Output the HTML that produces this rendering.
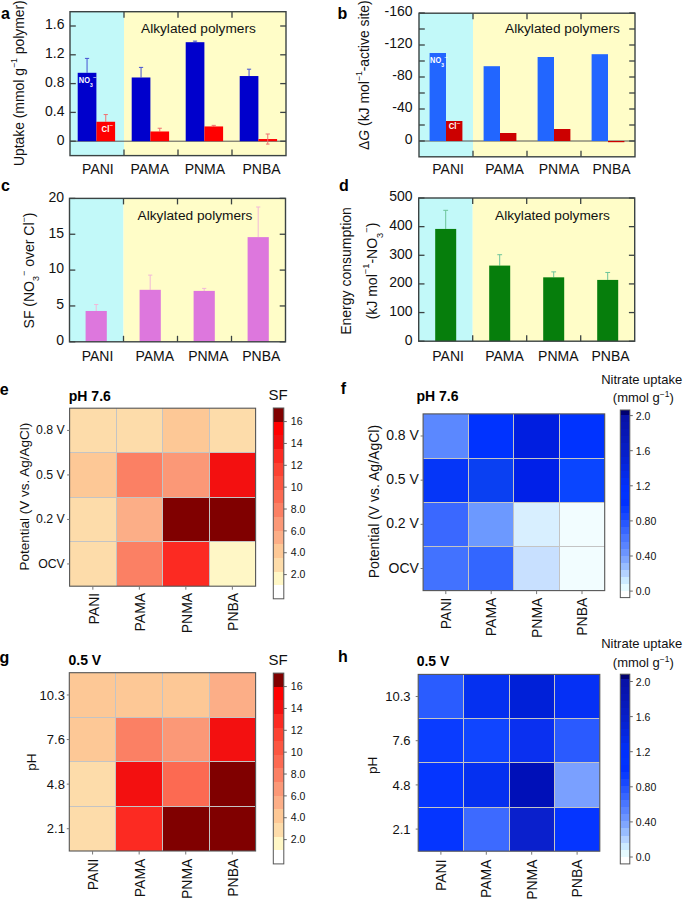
<!DOCTYPE html>
<html><head><meta charset="utf-8"><style>
html,body{margin:0;padding:0;background:#fff;overflow:hidden;}
svg{display:block;font-family:"Liberation Sans", sans-serif;}
</style></head><body>
<svg width="685" height="901" viewBox="0 0 685 901">
<rect width="685" height="901" fill="#fff"/>
<rect x="70.00" y="11.70" width="54.00" height="143.90" fill="#c2f9f9"/>
<rect x="124.00" y="11.70" width="162.00" height="143.90" fill="#fffdc8"/>
<text x="141" y="33" font-size="13.7" text-anchor="start" fill="#111">Alkylated polymers</text>
<line x1="70.00" y1="141.20" x2="286.00" y2="141.20" stroke="#555" stroke-width="1"/>
<line x1="87.05" y1="72.80" x2="87.05" y2="58.40" stroke="#4652d2" stroke-width="1"/>
<line x1="84.95" y1="58.40" x2="89.15" y2="58.40" stroke="#4652d2" stroke-width="1"/>
<line x1="105.75" y1="121.76" x2="105.75" y2="114.56" stroke="#f07070" stroke-width="1"/>
<line x1="103.65" y1="114.56" x2="107.85" y2="114.56" stroke="#f07070" stroke-width="1"/>
<rect x="77.70" y="72.80" width="18.70" height="68.40" fill="#0000cc"/>
<rect x="96.40" y="121.76" width="18.70" height="19.44" fill="#ff0000"/>
<line x1="141.05" y1="77.48" x2="141.05" y2="67.40" stroke="#4652d2" stroke-width="1"/>
<line x1="138.95" y1="67.40" x2="143.15" y2="67.40" stroke="#4652d2" stroke-width="1"/>
<line x1="159.75" y1="131.48" x2="159.75" y2="128.24" stroke="#f07070" stroke-width="1"/>
<line x1="157.65" y1="128.24" x2="161.85" y2="128.24" stroke="#f07070" stroke-width="1"/>
<rect x="131.70" y="77.48" width="18.70" height="63.72" fill="#0000cc"/>
<rect x="150.40" y="131.48" width="18.70" height="9.72" fill="#ff0000"/>
<line x1="195.05" y1="42.20" x2="195.05" y2="41.12" stroke="#4652d2" stroke-width="1"/>
<line x1="192.95" y1="41.12" x2="197.15" y2="41.12" stroke="#4652d2" stroke-width="1"/>
<line x1="213.75" y1="126.44" x2="213.75" y2="125.36" stroke="#f07070" stroke-width="1"/>
<line x1="211.65" y1="125.36" x2="215.85" y2="125.36" stroke="#f07070" stroke-width="1"/>
<rect x="185.70" y="42.20" width="18.70" height="99.00" fill="#0000cc"/>
<rect x="204.40" y="126.44" width="18.70" height="14.76" fill="#ff0000"/>
<line x1="249.05" y1="76.04" x2="249.05" y2="69.20" stroke="#4652d2" stroke-width="1"/>
<line x1="246.95" y1="69.20" x2="251.15" y2="69.20" stroke="#4652d2" stroke-width="1"/>
<line x1="267.75" y1="139.04" x2="267.75" y2="134.00" stroke="#f07070" stroke-width="1"/>
<line x1="265.65" y1="134.00" x2="269.85" y2="134.00" stroke="#f07070" stroke-width="1"/>
<rect x="239.70" y="76.04" width="18.70" height="65.16" fill="#0000cc"/>
<rect x="258.40" y="139.04" width="18.70" height="2.16" fill="#ff0000"/>
<line x1="267.75" y1="139.04" x2="267.75" y2="144.08" stroke="#f07070" stroke-width="1"/>
<line x1="266.00" y1="144.08" x2="269.50" y2="144.08" stroke="#f07070" stroke-width="1"/>
<line x1="70.00" y1="141.20" x2="75.80" y2="141.20" stroke="#3b4343" stroke-width="1.3"/>
<line x1="280.20" y1="141.20" x2="286.00" y2="141.20" stroke="#3b4343" stroke-width="1.3"/>
<line x1="70.00" y1="112.40" x2="75.80" y2="112.40" stroke="#3b4343" stroke-width="1.3"/>
<line x1="280.20" y1="112.40" x2="286.00" y2="112.40" stroke="#3b4343" stroke-width="1.3"/>
<line x1="70.00" y1="83.60" x2="75.80" y2="83.60" stroke="#3b4343" stroke-width="1.3"/>
<line x1="280.20" y1="83.60" x2="286.00" y2="83.60" stroke="#3b4343" stroke-width="1.3"/>
<line x1="70.00" y1="54.80" x2="75.80" y2="54.80" stroke="#3b4343" stroke-width="1.3"/>
<line x1="280.20" y1="54.80" x2="286.00" y2="54.80" stroke="#3b4343" stroke-width="1.3"/>
<line x1="70.00" y1="26.00" x2="75.80" y2="26.00" stroke="#3b4343" stroke-width="1.3"/>
<line x1="280.20" y1="26.00" x2="286.00" y2="26.00" stroke="#3b4343" stroke-width="1.3"/>
<line x1="124.00" y1="11.70" x2="124.00" y2="17.70" stroke="#3b4343" stroke-width="1.3"/>
<line x1="124.00" y1="149.60" x2="124.00" y2="155.60" stroke="#3b4343" stroke-width="1.3"/>
<line x1="178.00" y1="11.70" x2="178.00" y2="17.70" stroke="#3b4343" stroke-width="1.3"/>
<line x1="178.00" y1="149.60" x2="178.00" y2="155.60" stroke="#3b4343" stroke-width="1.3"/>
<line x1="232.00" y1="11.70" x2="232.00" y2="17.70" stroke="#3b4343" stroke-width="1.3"/>
<line x1="232.00" y1="149.60" x2="232.00" y2="155.60" stroke="#3b4343" stroke-width="1.3"/>
<rect x="70" y="11.7" width="216" height="143.9" fill="none" stroke="#3b4343" stroke-width="1.4"/>
<text x="64.5" y="144.5" font-size="14" text-anchor="end" fill="#111">0</text>
<text x="64.5" y="115.69999999999999" font-size="14" text-anchor="end" fill="#111">0.4</text>
<text x="64.5" y="86.89999999999999" font-size="14" text-anchor="end" fill="#111">0.8</text>
<text x="64.5" y="58.099999999999994" font-size="14" text-anchor="end" fill="#111">1.2</text>
<text x="64.5" y="29.299999999999986" font-size="14" text-anchor="end" fill="#111">1.6</text>
<text x="97.9" y="173.8" font-size="14" text-anchor="middle" fill="#111">PANI</text>
<text x="149.7" y="173.8" font-size="14" text-anchor="middle" fill="#111">PAMA</text>
<text x="204.9" y="173.8" font-size="14" text-anchor="middle" fill="#111">PNMA</text>
<text x="261.5" y="173.8" font-size="14" text-anchor="middle" fill="#111">PNBA</text>
<text transform="translate(78.8,82.8) scale(0.86,1)" font-size="8.6" fill="#fff" font-weight="bold">NO<tspan font-size="5.8" dy="3.8">3</tspan><tspan font-size="7" dy="-7.1" font-weight="normal">&#8722;</tspan></text>
<text transform="translate(101.6,131.8) scale(0.9,1)" font-size="8.6" fill="#fff" font-weight="bold">Cl<tspan font-size="7" dy="-3.6" font-weight="normal">&#8722;</tspan></text>
<text transform="translate(24,83.2) rotate(-90)" font-size="13.9" text-anchor="middle" fill="#111">Uptake (mmol g<tspan font-size="8.7" dy="-7">&#8722;1</tspan><tspan dy="7"> polymer)</tspan></text>
<text x="1" y="18.8" font-size="16" text-anchor="start" fill="#000" font-weight="bold">a</text>
<rect x="419.00" y="13.20" width="54.00" height="143.60" fill="#c2f9f9"/>
<rect x="473.00" y="13.20" width="162.00" height="143.60" fill="#fffdc8"/>
<text x="505" y="33" font-size="13.7" text-anchor="start" fill="#111">Alkylated polymers</text>
<line x1="419.00" y1="141.00" x2="635.00" y2="141.00" stroke="#555" stroke-width="1"/>
<rect x="429.60" y="53.00" width="16.40" height="88.00" fill="#2266ff"/>
<rect x="446.00" y="121.00" width="16.40" height="20.00" fill="#cc0000"/>
<rect x="483.60" y="66.20" width="16.40" height="74.80" fill="#2266ff"/>
<rect x="500.00" y="133.00" width="16.40" height="8.00" fill="#cc0000"/>
<rect x="537.60" y="57.00" width="16.40" height="84.00" fill="#2266ff"/>
<rect x="554.00" y="129.00" width="16.40" height="12.00" fill="#cc0000"/>
<rect x="591.60" y="54.20" width="16.40" height="86.80" fill="#2266ff"/>
<rect x="608.00" y="141.00" width="16.40" height="1.20" fill="#cc0000"/>
<line x1="419.00" y1="141.00" x2="424.80" y2="141.00" stroke="#3b4343" stroke-width="1.3"/>
<line x1="629.20" y1="141.00" x2="635.00" y2="141.00" stroke="#3b4343" stroke-width="1.3"/>
<line x1="419.00" y1="125.00" x2="424.80" y2="125.00" stroke="#3b4343" stroke-width="1.3"/>
<line x1="629.20" y1="125.00" x2="635.00" y2="125.00" stroke="#3b4343" stroke-width="1.3"/>
<line x1="419.00" y1="109.00" x2="424.80" y2="109.00" stroke="#3b4343" stroke-width="1.3"/>
<line x1="629.20" y1="109.00" x2="635.00" y2="109.00" stroke="#3b4343" stroke-width="1.3"/>
<line x1="419.00" y1="93.00" x2="424.80" y2="93.00" stroke="#3b4343" stroke-width="1.3"/>
<line x1="629.20" y1="93.00" x2="635.00" y2="93.00" stroke="#3b4343" stroke-width="1.3"/>
<line x1="419.00" y1="77.00" x2="424.80" y2="77.00" stroke="#3b4343" stroke-width="1.3"/>
<line x1="629.20" y1="77.00" x2="635.00" y2="77.00" stroke="#3b4343" stroke-width="1.3"/>
<line x1="419.00" y1="61.00" x2="424.80" y2="61.00" stroke="#3b4343" stroke-width="1.3"/>
<line x1="629.20" y1="61.00" x2="635.00" y2="61.00" stroke="#3b4343" stroke-width="1.3"/>
<line x1="419.00" y1="45.00" x2="424.80" y2="45.00" stroke="#3b4343" stroke-width="1.3"/>
<line x1="629.20" y1="45.00" x2="635.00" y2="45.00" stroke="#3b4343" stroke-width="1.3"/>
<line x1="419.00" y1="29.00" x2="424.80" y2="29.00" stroke="#3b4343" stroke-width="1.3"/>
<line x1="629.20" y1="29.00" x2="635.00" y2="29.00" stroke="#3b4343" stroke-width="1.3"/>
<line x1="419.00" y1="13.00" x2="424.80" y2="13.00" stroke="#3b4343" stroke-width="1.3"/>
<line x1="629.20" y1="13.00" x2="635.00" y2="13.00" stroke="#3b4343" stroke-width="1.3"/>
<line x1="473.00" y1="13.20" x2="473.00" y2="19.20" stroke="#3b4343" stroke-width="1.3"/>
<line x1="473.00" y1="150.80" x2="473.00" y2="156.80" stroke="#3b4343" stroke-width="1.3"/>
<line x1="527.00" y1="13.20" x2="527.00" y2="19.20" stroke="#3b4343" stroke-width="1.3"/>
<line x1="527.00" y1="150.80" x2="527.00" y2="156.80" stroke="#3b4343" stroke-width="1.3"/>
<line x1="581.00" y1="13.20" x2="581.00" y2="19.20" stroke="#3b4343" stroke-width="1.3"/>
<line x1="581.00" y1="150.80" x2="581.00" y2="156.80" stroke="#3b4343" stroke-width="1.3"/>
<rect x="419" y="13.2" width="216" height="143.60000000000002" fill="none" stroke="#3b4343" stroke-width="1.4"/>
<text x="412.6" y="144.3" font-size="14" text-anchor="end" fill="#111">0</text>
<text x="412.6" y="112.3" font-size="14" text-anchor="end" fill="#111">-40</text>
<text x="412.6" y="80.3" font-size="14" text-anchor="end" fill="#111">-80</text>
<text x="412.6" y="48.3" font-size="14" text-anchor="end" fill="#111">-120</text>
<text x="412.6" y="16.3" font-size="14" text-anchor="end" fill="#111">-160</text>
<text x="448.1" y="174.4" font-size="14" text-anchor="middle" fill="#111">PANI</text>
<text x="504.5" y="174.4" font-size="14" text-anchor="middle" fill="#111">PAMA</text>
<text x="559" y="174.4" font-size="14" text-anchor="middle" fill="#111">PNMA</text>
<text x="611.5" y="174.4" font-size="14" text-anchor="middle" fill="#111">PNBA</text>
<text transform="translate(430.1,63) scale(0.86,1)" font-size="8.6" fill="#fff" font-weight="bold">NO<tspan font-size="5.8" dy="3.8">3</tspan><tspan font-size="7" dy="-7.1" font-weight="normal">&#8722;</tspan></text>
<text transform="translate(448.7,129.1) scale(0.9,1)" font-size="8.6" fill="#fff" font-weight="bold">Cl<tspan font-size="7" dy="-3.5" font-weight="normal">&#8722;</tspan></text>
<text transform="translate(369.1,75.1) rotate(-90)" font-size="13.9" text-anchor="middle" fill="#111">&#916;<tspan font-style="italic">G</tspan> (kJ mol<tspan font-size="8.7" dy="-7">&#8722;1</tspan><tspan dy="7">-active site)</tspan></text>
<text x="337.6" y="19" font-size="16" text-anchor="start" fill="#000" font-weight="bold">b</text>
<rect x="69.50" y="198.40" width="54.00" height="143.40" fill="#c2f9f9"/>
<rect x="123.50" y="198.40" width="162.00" height="143.40" fill="#fffdc8"/>
<text x="137.6" y="220" font-size="13.7" text-anchor="start" fill="#111">Alkylated polymers</text>
<line x1="96.20" y1="310.97" x2="96.20" y2="304.52" stroke="#f2b8d8" stroke-width="1"/>
<line x1="94.10" y1="304.52" x2="98.30" y2="304.52" stroke="#f2b8d8" stroke-width="1"/>
<rect x="85.60" y="310.97" width="21.20" height="30.83" fill="#dd77dd"/>
<line x1="150.20" y1="289.82" x2="150.20" y2="275.12" stroke="#f2b8d8" stroke-width="1"/>
<line x1="148.10" y1="275.12" x2="152.30" y2="275.12" stroke="#f2b8d8" stroke-width="1"/>
<rect x="139.60" y="289.82" width="21.20" height="51.98" fill="#dd77dd"/>
<line x1="204.20" y1="290.89" x2="204.20" y2="288.38" stroke="#f2b8d8" stroke-width="1"/>
<line x1="202.10" y1="288.38" x2="206.30" y2="288.38" stroke="#f2b8d8" stroke-width="1"/>
<rect x="193.60" y="290.89" width="21.20" height="50.91" fill="#dd77dd"/>
<line x1="258.20" y1="237.12" x2="258.20" y2="207.00" stroke="#f2b8d8" stroke-width="1"/>
<line x1="256.10" y1="207.00" x2="260.30" y2="207.00" stroke="#f2b8d8" stroke-width="1"/>
<rect x="247.60" y="237.12" width="21.20" height="104.68" fill="#dd77dd"/>
<line x1="69.50" y1="341.80" x2="75.30" y2="341.80" stroke="#3b4343" stroke-width="1.3"/>
<line x1="279.70" y1="341.80" x2="285.50" y2="341.80" stroke="#3b4343" stroke-width="1.3"/>
<line x1="69.50" y1="305.95" x2="75.30" y2="305.95" stroke="#3b4343" stroke-width="1.3"/>
<line x1="279.70" y1="305.95" x2="285.50" y2="305.95" stroke="#3b4343" stroke-width="1.3"/>
<line x1="69.50" y1="270.10" x2="75.30" y2="270.10" stroke="#3b4343" stroke-width="1.3"/>
<line x1="279.70" y1="270.10" x2="285.50" y2="270.10" stroke="#3b4343" stroke-width="1.3"/>
<line x1="69.50" y1="234.25" x2="75.30" y2="234.25" stroke="#3b4343" stroke-width="1.3"/>
<line x1="279.70" y1="234.25" x2="285.50" y2="234.25" stroke="#3b4343" stroke-width="1.3"/>
<line x1="69.50" y1="198.40" x2="75.30" y2="198.40" stroke="#3b4343" stroke-width="1.3"/>
<line x1="279.70" y1="198.40" x2="285.50" y2="198.40" stroke="#3b4343" stroke-width="1.3"/>
<line x1="123.50" y1="198.40" x2="123.50" y2="204.40" stroke="#3b4343" stroke-width="1.3"/>
<line x1="123.50" y1="335.80" x2="123.50" y2="341.80" stroke="#3b4343" stroke-width="1.3"/>
<line x1="177.50" y1="198.40" x2="177.50" y2="204.40" stroke="#3b4343" stroke-width="1.3"/>
<line x1="177.50" y1="335.80" x2="177.50" y2="341.80" stroke="#3b4343" stroke-width="1.3"/>
<line x1="231.50" y1="198.40" x2="231.50" y2="204.40" stroke="#3b4343" stroke-width="1.3"/>
<line x1="231.50" y1="335.80" x2="231.50" y2="341.80" stroke="#3b4343" stroke-width="1.3"/>
<rect x="69.5" y="198.4" width="216.0" height="143.4" fill="none" stroke="#3b4343" stroke-width="1.4"/>
<text x="64" y="345.1" font-size="14" text-anchor="end" fill="#111">0</text>
<text x="64" y="309.25" font-size="14" text-anchor="end" fill="#111">5</text>
<text x="64" y="273.40000000000003" font-size="14" text-anchor="end" fill="#111">10</text>
<text x="64" y="237.55" font-size="14" text-anchor="end" fill="#111">15</text>
<text x="64" y="201.70000000000002" font-size="14" text-anchor="end" fill="#111">20</text>
<text x="97.5" y="360.9" font-size="14" text-anchor="middle" fill="#111">PANI</text>
<text x="154.8" y="360.9" font-size="14" text-anchor="middle" fill="#111">PAMA</text>
<text x="208.4" y="360.9" font-size="14" text-anchor="middle" fill="#111">PNMA</text>
<text x="261.3" y="360.9" font-size="14" text-anchor="middle" fill="#111">PNBA</text>
<text transform="translate(33.6,270.5) rotate(-90)" font-size="14" text-anchor="middle" fill="#111">SF (NO<tspan font-size="9" dy="5.5">3</tspan><tspan font-size="9" dy="-12.5">&#8722;</tspan><tspan dy="7"> over Cl</tspan><tspan font-size="9" dy="-7">&#8722;</tspan><tspan dy="7">)</tspan></text>
<text x="1" y="190.5" font-size="16" text-anchor="start" fill="#000" font-weight="bold">c</text>
<rect x="418.70" y="198.00" width="54.00" height="143.20" fill="#c2f9f9"/>
<rect x="472.70" y="198.00" width="162.00" height="143.20" fill="#fffdc8"/>
<text x="495" y="219.5" font-size="13.7" text-anchor="start" fill="#111">Alkylated polymers</text>
<line x1="445.70" y1="228.93" x2="445.70" y2="210.32" stroke="#6cc49a" stroke-width="1"/>
<line x1="443.30" y1="210.32" x2="448.10" y2="210.32" stroke="#6cc49a" stroke-width="1"/>
<rect x="435.20" y="228.93" width="21.00" height="112.27" fill="#067e0c"/>
<line x1="499.70" y1="265.59" x2="499.70" y2="254.71" stroke="#6cc49a" stroke-width="1"/>
<line x1="497.30" y1="254.71" x2="502.10" y2="254.71" stroke="#6cc49a" stroke-width="1"/>
<rect x="489.20" y="265.59" width="21.00" height="75.61" fill="#067e0c"/>
<line x1="553.70" y1="277.33" x2="553.70" y2="271.89" stroke="#6cc49a" stroke-width="1"/>
<line x1="551.30" y1="271.89" x2="556.10" y2="271.89" stroke="#6cc49a" stroke-width="1"/>
<rect x="543.20" y="277.33" width="21.00" height="63.87" fill="#067e0c"/>
<line x1="607.70" y1="279.91" x2="607.70" y2="272.46" stroke="#6cc49a" stroke-width="1"/>
<line x1="605.30" y1="272.46" x2="610.10" y2="272.46" stroke="#6cc49a" stroke-width="1"/>
<rect x="597.20" y="279.91" width="21.00" height="61.29" fill="#067e0c"/>
<line x1="418.70" y1="341.20" x2="424.50" y2="341.20" stroke="#3b4343" stroke-width="1.3"/>
<line x1="628.90" y1="341.20" x2="634.70" y2="341.20" stroke="#3b4343" stroke-width="1.3"/>
<line x1="418.70" y1="312.56" x2="424.50" y2="312.56" stroke="#3b4343" stroke-width="1.3"/>
<line x1="628.90" y1="312.56" x2="634.70" y2="312.56" stroke="#3b4343" stroke-width="1.3"/>
<line x1="418.70" y1="283.92" x2="424.50" y2="283.92" stroke="#3b4343" stroke-width="1.3"/>
<line x1="628.90" y1="283.92" x2="634.70" y2="283.92" stroke="#3b4343" stroke-width="1.3"/>
<line x1="418.70" y1="255.28" x2="424.50" y2="255.28" stroke="#3b4343" stroke-width="1.3"/>
<line x1="628.90" y1="255.28" x2="634.70" y2="255.28" stroke="#3b4343" stroke-width="1.3"/>
<line x1="418.70" y1="226.64" x2="424.50" y2="226.64" stroke="#3b4343" stroke-width="1.3"/>
<line x1="628.90" y1="226.64" x2="634.70" y2="226.64" stroke="#3b4343" stroke-width="1.3"/>
<line x1="418.70" y1="198.00" x2="424.50" y2="198.00" stroke="#3b4343" stroke-width="1.3"/>
<line x1="628.90" y1="198.00" x2="634.70" y2="198.00" stroke="#3b4343" stroke-width="1.3"/>
<line x1="472.70" y1="198.00" x2="472.70" y2="204.00" stroke="#3b4343" stroke-width="1.3"/>
<line x1="472.70" y1="335.20" x2="472.70" y2="341.20" stroke="#3b4343" stroke-width="1.3"/>
<line x1="526.70" y1="198.00" x2="526.70" y2="204.00" stroke="#3b4343" stroke-width="1.3"/>
<line x1="526.70" y1="335.20" x2="526.70" y2="341.20" stroke="#3b4343" stroke-width="1.3"/>
<line x1="580.70" y1="198.00" x2="580.70" y2="204.00" stroke="#3b4343" stroke-width="1.3"/>
<line x1="580.70" y1="335.20" x2="580.70" y2="341.20" stroke="#3b4343" stroke-width="1.3"/>
<rect x="418.7" y="198" width="216.00000000000006" height="143.2" fill="none" stroke="#3b4343" stroke-width="1.4"/>
<text x="412.6" y="344.5" font-size="14" text-anchor="end" fill="#111">0</text>
<text x="412.6" y="315.86" font-size="14" text-anchor="end" fill="#111">100</text>
<text x="412.6" y="287.21999999999997" font-size="14" text-anchor="end" fill="#111">200</text>
<text x="412.6" y="258.58" font-size="14" text-anchor="end" fill="#111">300</text>
<text x="412.6" y="229.94" font-size="14" text-anchor="end" fill="#111">400</text>
<text x="412.6" y="201.3" font-size="14" text-anchor="end" fill="#111">500</text>
<text x="448.1" y="360.6" font-size="14" text-anchor="middle" fill="#111">PANI</text>
<text x="504.5" y="360.6" font-size="14" text-anchor="middle" fill="#111">PAMA</text>
<text x="558.3" y="360.6" font-size="14" text-anchor="middle" fill="#111">PNMA</text>
<text x="610.5" y="360.6" font-size="14" text-anchor="middle" fill="#111">PNBA</text>
<text transform="translate(350.7,271) rotate(-90)" font-size="14" text-anchor="middle" fill="#111">Energy consumption</text>
<text transform="translate(376.5,271) rotate(-90)" font-size="14" text-anchor="middle" fill="#111">(kJ mol<tspan font-size="9.3" dy="-7.2">&#8722;1</tspan><tspan dy="7.2">-NO</tspan><tspan font-size="9.3" dy="6.5">3</tspan><tspan font-size="9.3" dy="-13.5">&#8722;</tspan><tspan dy="7">)</tspan></text>
<text x="339" y="191" font-size="16" text-anchor="start" fill="#000" font-weight="bold">d</text>
<rect x="69.60" y="408.20" width="46.90" height="44.30" fill="#fddcaa"/>
<rect x="116.50" y="408.20" width="46.00" height="44.30" fill="#fddcaa"/>
<rect x="162.50" y="408.20" width="47.00" height="44.30" fill="#fdc896"/>
<rect x="209.50" y="408.20" width="46.10" height="44.30" fill="#fddcaa"/>
<rect x="69.60" y="452.50" width="46.90" height="45.00" fill="#fdc896"/>
<rect x="116.50" y="452.50" width="46.00" height="45.00" fill="#fb8064"/>
<rect x="162.50" y="452.50" width="47.00" height="45.00" fill="#fb9877"/>
<rect x="209.50" y="452.50" width="46.10" height="45.00" fill="#f31010"/>
<rect x="69.60" y="497.50" width="46.90" height="44.00" fill="#fddcaa"/>
<rect x="116.50" y="497.50" width="46.00" height="44.00" fill="#fcae87"/>
<rect x="162.50" y="497.50" width="47.00" height="44.00" fill="#800000"/>
<rect x="209.50" y="497.50" width="46.10" height="44.00" fill="#800000"/>
<rect x="69.60" y="541.50" width="46.90" height="44.70" fill="#fddcaa"/>
<rect x="116.50" y="541.50" width="46.00" height="44.70" fill="#fb8064"/>
<rect x="162.50" y="541.50" width="47.00" height="44.70" fill="#fc2a22"/>
<rect x="209.50" y="541.50" width="46.10" height="44.70" fill="#fff7c6"/>
<line x1="116.50" y1="408.20" x2="116.50" y2="586.20" stroke="#c4c4c4" stroke-width="1"/>
<line x1="69.60" y1="452.50" x2="255.60" y2="452.50" stroke="#c4c4c4" stroke-width="1"/>
<line x1="162.50" y1="408.20" x2="162.50" y2="586.20" stroke="#c4c4c4" stroke-width="1"/>
<line x1="69.60" y1="497.50" x2="255.60" y2="497.50" stroke="#c4c4c4" stroke-width="1"/>
<line x1="209.50" y1="408.20" x2="209.50" y2="586.20" stroke="#c4c4c4" stroke-width="1"/>
<line x1="69.60" y1="541.50" x2="255.60" y2="541.50" stroke="#c4c4c4" stroke-width="1"/>
<rect x="69.6" y="408.2" width="186.00" height="178.00" fill="none" stroke="#555" stroke-width="1.1"/>
<line x1="67.10" y1="430.45" x2="69.60" y2="430.45" stroke="#777" stroke-width="1"/>
<text x="64.8" y="434.378" font-size="12.3" text-anchor="end" fill="#111">0.8 V</text>
<line x1="67.10" y1="474.95" x2="69.60" y2="474.95" stroke="#777" stroke-width="1"/>
<text x="64.8" y="478.87800000000004" font-size="12.3" text-anchor="end" fill="#111">0.5 V</text>
<line x1="67.10" y1="519.45" x2="69.60" y2="519.45" stroke="#777" stroke-width="1"/>
<text x="64.8" y="523.378" font-size="12.3" text-anchor="end" fill="#111">0.2 V</text>
<line x1="67.10" y1="563.95" x2="69.60" y2="563.95" stroke="#777" stroke-width="1"/>
<text x="64.8" y="567.878" font-size="12.3" text-anchor="end" fill="#111">OCV</text>
<line x1="92.85" y1="586.20" x2="92.85" y2="589.70" stroke="#777" stroke-width="1"/>
<text transform="translate(98.89,592.8) rotate(-90)" font-size="14" text-anchor="end" fill="#111">PANI</text>
<line x1="139.35" y1="586.20" x2="139.35" y2="589.70" stroke="#777" stroke-width="1"/>
<text transform="translate(145.39,592.8) rotate(-90)" font-size="14" text-anchor="end" fill="#111">PAMA</text>
<line x1="185.85" y1="586.20" x2="185.85" y2="589.70" stroke="#777" stroke-width="1"/>
<text transform="translate(191.89,592.8) rotate(-90)" font-size="14" text-anchor="end" fill="#111">PNMA</text>
<line x1="232.35" y1="586.20" x2="232.35" y2="589.70" stroke="#777" stroke-width="1"/>
<text transform="translate(238.39,592.8) rotate(-90)" font-size="14" text-anchor="end" fill="#111">PNBA</text>
<text x="68.8" y="400.9" font-size="14" text-anchor="start" fill="#000" font-weight="bold">pH 7.6</text>
<text transform="translate(28.6,496.6) rotate(-90)" font-size="13.5" text-anchor="middle" fill="#111">Potential (V vs. Ag/AgCl)</text>
<text x="268.5" y="399.9" font-size="15" text-anchor="start" fill="#111">SF</text>
<defs><linearGradient id="g1" x1="0" y1="0" x2="0" y2="1"><stop offset="0.0000" stop-color="#800000"/><stop offset="0.0714" stop-color="#800000"/><stop offset="0.0714" stop-color="#ff0000"/><stop offset="0.1429" stop-color="#ff0000"/><stop offset="0.1429" stop-color="#f31010"/><stop offset="0.2143" stop-color="#f31010"/><stop offset="0.2143" stop-color="#fc2a22"/><stop offset="0.2857" stop-color="#fc2a22"/><stop offset="0.2857" stop-color="#fc4232"/><stop offset="0.3571" stop-color="#fc4232"/><stop offset="0.3571" stop-color="#fc5641"/><stop offset="0.4286" stop-color="#fc5641"/><stop offset="0.4286" stop-color="#fc6a52"/><stop offset="0.5000" stop-color="#fc6a52"/><stop offset="0.5000" stop-color="#fb8064"/><stop offset="0.5714" stop-color="#fb8064"/><stop offset="0.5714" stop-color="#fb9877"/><stop offset="0.6429" stop-color="#fb9877"/><stop offset="0.6429" stop-color="#fcae87"/><stop offset="0.7143" stop-color="#fcae87"/><stop offset="0.7143" stop-color="#fdc896"/><stop offset="0.7857" stop-color="#fdc896"/><stop offset="0.7857" stop-color="#fddcaa"/><stop offset="0.8571" stop-color="#fddcaa"/><stop offset="0.8571" stop-color="#fff7c6"/><stop offset="0.9286" stop-color="#fff7c6"/><stop offset="0.9286" stop-color="#ffffff"/><stop offset="1.0000" stop-color="#ffffff"/></linearGradient></defs>
<rect x="273.30" y="408.00" width="10.50" height="190.80" fill="url(#g1)"/>
<rect x="273.3" y="408" width="10.50" height="190.80" fill="none" stroke="#555" stroke-width="1"/>
<line x1="283.80" y1="574.60" x2="286.80" y2="574.60" stroke="#666" stroke-width="1"/>
<text x="290.8" y="578.3000000000001" font-size="10.5" text-anchor="start" fill="#111">2.0</text>
<line x1="283.80" y1="552.74" x2="286.80" y2="552.74" stroke="#666" stroke-width="1"/>
<text x="290.8" y="556.44" font-size="10.5" text-anchor="start" fill="#111">4.0</text>
<line x1="283.80" y1="530.88" x2="286.80" y2="530.88" stroke="#666" stroke-width="1"/>
<text x="290.8" y="534.58" font-size="10.5" text-anchor="start" fill="#111">6.0</text>
<line x1="283.80" y1="509.02" x2="286.80" y2="509.02" stroke="#666" stroke-width="1"/>
<text x="290.8" y="512.72" font-size="10.5" text-anchor="start" fill="#111">8.0</text>
<line x1="283.80" y1="487.16" x2="286.80" y2="487.16" stroke="#666" stroke-width="1"/>
<text x="290.8" y="490.86" font-size="10.5" text-anchor="start" fill="#111">10</text>
<line x1="283.80" y1="465.30" x2="286.80" y2="465.30" stroke="#666" stroke-width="1"/>
<text x="290.8" y="469.0" font-size="10.5" text-anchor="start" fill="#111">12</text>
<line x1="283.80" y1="443.44" x2="286.80" y2="443.44" stroke="#666" stroke-width="1"/>
<text x="290.8" y="447.14000000000004" font-size="10.5" text-anchor="start" fill="#111">14</text>
<line x1="283.80" y1="421.58" x2="286.80" y2="421.58" stroke="#666" stroke-width="1"/>
<text x="290.8" y="425.28000000000003" font-size="10.5" text-anchor="start" fill="#111">16</text>
<text x="-0.3" y="394.9" font-size="16" text-anchor="start" fill="#000" font-weight="bold">e</text>
<rect x="423.10" y="413.90" width="45.40" height="44.60" fill="#5b88ff"/>
<rect x="468.50" y="413.90" width="45.00" height="44.60" fill="#0033ff"/>
<rect x="513.50" y="413.90" width="46.00" height="44.60" fill="#001ee0"/>
<rect x="559.50" y="413.90" width="45.20" height="44.60" fill="#0033ff"/>
<rect x="423.10" y="458.50" width="45.40" height="44.00" fill="#0536f8"/>
<rect x="468.50" y="458.50" width="45.00" height="44.00" fill="#0a40f2"/>
<rect x="513.50" y="458.50" width="46.00" height="44.00" fill="#0020e8"/>
<rect x="559.50" y="458.50" width="45.20" height="44.00" fill="#0a45ff"/>
<rect x="423.10" y="502.50" width="45.40" height="44.00" fill="#3a68ff"/>
<rect x="468.50" y="502.50" width="45.00" height="44.00" fill="#6c99ff"/>
<rect x="513.50" y="502.50" width="46.00" height="44.00" fill="#d8efff"/>
<rect x="559.50" y="502.50" width="45.20" height="44.00" fill="#f2fdff"/>
<rect x="423.10" y="546.50" width="45.40" height="44.10" fill="#4272ff"/>
<rect x="468.50" y="546.50" width="45.00" height="44.10" fill="#3366ff"/>
<rect x="513.50" y="546.50" width="46.00" height="44.10" fill="#c8e0ff"/>
<rect x="559.50" y="546.50" width="45.20" height="44.10" fill="#f2fdff"/>
<line x1="468.50" y1="413.90" x2="468.50" y2="590.60" stroke="#c4c4c4" stroke-width="1"/>
<line x1="423.10" y1="458.50" x2="604.70" y2="458.50" stroke="#c4c4c4" stroke-width="1"/>
<line x1="513.50" y1="413.90" x2="513.50" y2="590.60" stroke="#c4c4c4" stroke-width="1"/>
<line x1="423.10" y1="502.50" x2="604.70" y2="502.50" stroke="#c4c4c4" stroke-width="1"/>
<line x1="559.50" y1="413.90" x2="559.50" y2="590.60" stroke="#c4c4c4" stroke-width="1"/>
<line x1="423.10" y1="546.50" x2="604.70" y2="546.50" stroke="#c4c4c4" stroke-width="1"/>
<rect x="423.1" y="413.9" width="181.60" height="176.70" fill="none" stroke="#555" stroke-width="1.1"/>
<line x1="420.60" y1="435.99" x2="423.10" y2="435.99" stroke="#777" stroke-width="1"/>
<text x="418.9" y="440.1275" font-size="14" text-anchor="end" fill="#111">0.8 V</text>
<line x1="420.60" y1="480.16" x2="423.10" y2="480.16" stroke="#777" stroke-width="1"/>
<text x="418.9" y="484.30250000000007" font-size="14" text-anchor="end" fill="#111">0.5 V</text>
<line x1="420.60" y1="524.34" x2="423.10" y2="524.34" stroke="#777" stroke-width="1"/>
<text x="418.9" y="528.4775" font-size="14" text-anchor="end" fill="#111">0.2 V</text>
<line x1="420.60" y1="568.51" x2="423.10" y2="568.51" stroke="#777" stroke-width="1"/>
<text x="418.9" y="572.6525" font-size="14" text-anchor="end" fill="#111">OCV</text>
<line x1="445.80" y1="590.60" x2="445.80" y2="594.10" stroke="#777" stroke-width="1"/>
<text transform="translate(450.84000000000003,597.6) rotate(-90)" font-size="14" text-anchor="end" fill="#111">PANI</text>
<line x1="491.20" y1="590.60" x2="491.20" y2="594.10" stroke="#777" stroke-width="1"/>
<text transform="translate(496.24000000000007,597.6) rotate(-90)" font-size="14" text-anchor="end" fill="#111">PAMA</text>
<line x1="536.60" y1="590.60" x2="536.60" y2="594.10" stroke="#777" stroke-width="1"/>
<text transform="translate(541.64,597.6) rotate(-90)" font-size="14" text-anchor="end" fill="#111">PNMA</text>
<line x1="582.00" y1="590.60" x2="582.00" y2="594.10" stroke="#777" stroke-width="1"/>
<text transform="translate(587.04,597.6) rotate(-90)" font-size="14" text-anchor="end" fill="#111">PNBA</text>
<text x="416.5" y="400.9" font-size="14" text-anchor="start" fill="#000" font-weight="bold">pH 7.6</text>
<text transform="translate(378.6,501.6) rotate(-90)" font-size="14" text-anchor="middle" fill="#111">Potential (V vs. Ag/AgCl)</text>
<text x="641.7" y="383.8" font-size="13" text-anchor="middle" fill="#111">Nitrate uptake</text>
<text x="643.3" y="401.8" font-size="13" text-anchor="middle" fill="#111">(mmol g<tspan font-size="8.5" dy="-5">&#8722;1</tspan><tspan dy="5">)</tspan></text>
<defs><linearGradient id="g2" x1="0" y1="0" x2="0" y2="1"><stop offset="0.0000" stop-color="#000070"/><stop offset="0.0283" stop-color="#000070"/><stop offset="0.0283" stop-color="#0812a8"/><stop offset="0.0656" stop-color="#0812a8"/><stop offset="0.0656" stop-color="#0814ae"/><stop offset="0.1030" stop-color="#0814ae"/><stop offset="0.1030" stop-color="#0816b4"/><stop offset="0.1404" stop-color="#0816b4"/><stop offset="0.1404" stop-color="#0819ba"/><stop offset="0.1778" stop-color="#0819ba"/><stop offset="0.1778" stop-color="#081cc2"/><stop offset="0.2151" stop-color="#081cc2"/><stop offset="0.2151" stop-color="#071fca"/><stop offset="0.2525" stop-color="#071fca"/><stop offset="0.2525" stop-color="#0622d4"/><stop offset="0.2899" stop-color="#0622d4"/><stop offset="0.2899" stop-color="#0526de"/><stop offset="0.3273" stop-color="#0526de"/><stop offset="0.3273" stop-color="#042ae8"/><stop offset="0.3646" stop-color="#042ae8"/><stop offset="0.3646" stop-color="#022ef4"/><stop offset="0.4020" stop-color="#022ef4"/><stop offset="0.4020" stop-color="#0030ff"/><stop offset="0.4394" stop-color="#0030ff"/><stop offset="0.4394" stop-color="#0033ff"/><stop offset="0.4768" stop-color="#0033ff"/><stop offset="0.4768" stop-color="#0030ff"/><stop offset="0.5141" stop-color="#0030ff"/><stop offset="0.5141" stop-color="#0a3cff"/><stop offset="0.5515" stop-color="#0a3cff"/><stop offset="0.5515" stop-color="#1848ff"/><stop offset="0.5889" stop-color="#1848ff"/><stop offset="0.5889" stop-color="#2857ff"/><stop offset="0.6263" stop-color="#2857ff"/><stop offset="0.6263" stop-color="#3866ff"/><stop offset="0.6636" stop-color="#3866ff"/><stop offset="0.6636" stop-color="#4a76ff"/><stop offset="0.7010" stop-color="#4a76ff"/><stop offset="0.7010" stop-color="#5a84ff"/><stop offset="0.7384" stop-color="#5a84ff"/><stop offset="0.7384" stop-color="#6c94ff"/><stop offset="0.7758" stop-color="#6c94ff"/><stop offset="0.7758" stop-color="#80a6ff"/><stop offset="0.8131" stop-color="#80a6ff"/><stop offset="0.8131" stop-color="#98bcff"/><stop offset="0.8505" stop-color="#98bcff"/><stop offset="0.8505" stop-color="#b4d2ff"/><stop offset="0.8879" stop-color="#b4d2ff"/><stop offset="0.8879" stop-color="#cceaff"/><stop offset="0.9253" stop-color="#cceaff"/><stop offset="0.9253" stop-color="#e6faff"/><stop offset="0.9626" stop-color="#e6faff"/><stop offset="0.9626" stop-color="#ffffff"/><stop offset="1.0000" stop-color="#ffffff"/></linearGradient></defs>
<rect x="620.30" y="410.00" width="9.50" height="187.60" fill="url(#g2)"/>
<rect x="620.3" y="410" width="9.50" height="187.60" fill="none" stroke="#555" stroke-width="1"/>
<line x1="629.80" y1="591.10" x2="632.80" y2="591.10" stroke="#666" stroke-width="1"/>
<text x="635.8" y="595.2" font-size="10.5" text-anchor="start" fill="#111">0.0</text>
<line x1="629.80" y1="556.00" x2="632.80" y2="556.00" stroke="#666" stroke-width="1"/>
<text x="635.8" y="560.1" font-size="10.5" text-anchor="start" fill="#111">0.40</text>
<line x1="629.80" y1="520.90" x2="632.80" y2="520.90" stroke="#666" stroke-width="1"/>
<text x="635.8" y="525.0" font-size="10.5" text-anchor="start" fill="#111">0.80</text>
<line x1="629.80" y1="485.80" x2="632.80" y2="485.80" stroke="#666" stroke-width="1"/>
<text x="635.8" y="489.90000000000003" font-size="10.5" text-anchor="start" fill="#111">1.2</text>
<line x1="629.80" y1="450.70" x2="632.80" y2="450.70" stroke="#666" stroke-width="1"/>
<text x="635.8" y="454.80000000000007" font-size="10.5" text-anchor="start" fill="#111">1.6</text>
<line x1="629.80" y1="415.60" x2="632.80" y2="415.60" stroke="#666" stroke-width="1"/>
<text x="635.8" y="419.70000000000005" font-size="10.5" text-anchor="start" fill="#111">2.0</text>
<text x="340.8" y="394" font-size="16" text-anchor="start" fill="#000" font-weight="bold">f</text>
<rect x="69.30" y="672.70" width="46.20" height="44.80" fill="#fdc896"/>
<rect x="115.50" y="672.70" width="47.00" height="44.80" fill="#fdc896"/>
<rect x="162.50" y="672.70" width="47.00" height="44.80" fill="#fdc896"/>
<rect x="209.50" y="672.70" width="46.10" height="44.80" fill="#fcae87"/>
<rect x="69.30" y="717.50" width="46.20" height="44.00" fill="#fdc896"/>
<rect x="115.50" y="717.50" width="47.00" height="44.00" fill="#fb8064"/>
<rect x="162.50" y="717.50" width="47.00" height="44.00" fill="#fb9877"/>
<rect x="209.50" y="717.50" width="46.10" height="44.00" fill="#f31010"/>
<rect x="69.30" y="761.50" width="46.20" height="45.00" fill="#fddcaa"/>
<rect x="115.50" y="761.50" width="47.00" height="45.00" fill="#f31010"/>
<rect x="162.50" y="761.50" width="47.00" height="45.00" fill="#fc6a52"/>
<rect x="209.50" y="761.50" width="46.10" height="45.00" fill="#800000"/>
<rect x="69.30" y="806.50" width="46.20" height="44.50" fill="#fddcaa"/>
<rect x="115.50" y="806.50" width="47.00" height="44.50" fill="#fc2a22"/>
<rect x="162.50" y="806.50" width="47.00" height="44.50" fill="#800000"/>
<rect x="209.50" y="806.50" width="46.10" height="44.50" fill="#800000"/>
<line x1="115.50" y1="672.70" x2="115.50" y2="851.00" stroke="#c4c4c4" stroke-width="1"/>
<line x1="69.30" y1="717.50" x2="255.60" y2="717.50" stroke="#c4c4c4" stroke-width="1"/>
<line x1="162.50" y1="672.70" x2="162.50" y2="851.00" stroke="#c4c4c4" stroke-width="1"/>
<line x1="69.30" y1="761.50" x2="255.60" y2="761.50" stroke="#c4c4c4" stroke-width="1"/>
<line x1="209.50" y1="672.70" x2="209.50" y2="851.00" stroke="#c4c4c4" stroke-width="1"/>
<line x1="69.30" y1="806.50" x2="255.60" y2="806.50" stroke="#c4c4c4" stroke-width="1"/>
<rect x="69.3" y="672.7" width="186.30" height="178.30" fill="none" stroke="#555" stroke-width="1.1"/>
<line x1="66.80" y1="694.99" x2="69.30" y2="694.99" stroke="#777" stroke-width="1"/>
<text x="64.9" y="699.6675" font-size="13" text-anchor="end" fill="#111">10.3</text>
<line x1="66.80" y1="739.56" x2="69.30" y2="739.56" stroke="#777" stroke-width="1"/>
<text x="64.9" y="744.2425" font-size="13" text-anchor="end" fill="#111">7.6</text>
<line x1="66.80" y1="784.14" x2="69.30" y2="784.14" stroke="#777" stroke-width="1"/>
<text x="64.9" y="788.8175" font-size="13" text-anchor="end" fill="#111">4.8</text>
<line x1="66.80" y1="828.71" x2="69.30" y2="828.71" stroke="#777" stroke-width="1"/>
<text x="64.9" y="833.3924999999999" font-size="13" text-anchor="end" fill="#111">2.1</text>
<line x1="92.59" y1="851.00" x2="92.59" y2="854.50" stroke="#777" stroke-width="1"/>
<text transform="translate(98.42750000000001,858.6) rotate(-90)" font-size="14" text-anchor="end" fill="#111">PANI</text>
<line x1="139.16" y1="851.00" x2="139.16" y2="854.50" stroke="#777" stroke-width="1"/>
<text transform="translate(145.00250000000003,858.6) rotate(-90)" font-size="14" text-anchor="end" fill="#111">PAMA</text>
<line x1="185.74" y1="851.00" x2="185.74" y2="854.50" stroke="#777" stroke-width="1"/>
<text transform="translate(191.57750000000001,858.6) rotate(-90)" font-size="14" text-anchor="end" fill="#111">PNMA</text>
<line x1="232.31" y1="851.00" x2="232.31" y2="854.50" stroke="#777" stroke-width="1"/>
<text transform="translate(238.1525,858.6) rotate(-90)" font-size="14" text-anchor="end" fill="#111">PNBA</text>
<text x="68.5" y="665.2" font-size="14" text-anchor="start" fill="#000" font-weight="bold">0.5 V</text>
<text transform="translate(35.5,762.2) rotate(-90)" font-size="13.5" text-anchor="middle" fill="#111">pH</text>
<text x="268.5" y="664.7" font-size="15" text-anchor="start" fill="#111">SF</text>
<defs><linearGradient id="g3" x1="0" y1="0" x2="0" y2="1"><stop offset="0.0000" stop-color="#800000"/><stop offset="0.0714" stop-color="#800000"/><stop offset="0.0714" stop-color="#ff0000"/><stop offset="0.1429" stop-color="#ff0000"/><stop offset="0.1429" stop-color="#f31010"/><stop offset="0.2143" stop-color="#f31010"/><stop offset="0.2143" stop-color="#fc2a22"/><stop offset="0.2857" stop-color="#fc2a22"/><stop offset="0.2857" stop-color="#fc4232"/><stop offset="0.3571" stop-color="#fc4232"/><stop offset="0.3571" stop-color="#fc5641"/><stop offset="0.4286" stop-color="#fc5641"/><stop offset="0.4286" stop-color="#fc6a52"/><stop offset="0.5000" stop-color="#fc6a52"/><stop offset="0.5000" stop-color="#fb8064"/><stop offset="0.5714" stop-color="#fb8064"/><stop offset="0.5714" stop-color="#fb9877"/><stop offset="0.6429" stop-color="#fb9877"/><stop offset="0.6429" stop-color="#fcae87"/><stop offset="0.7143" stop-color="#fcae87"/><stop offset="0.7143" stop-color="#fdc896"/><stop offset="0.7857" stop-color="#fdc896"/><stop offset="0.7857" stop-color="#fddcaa"/><stop offset="0.8571" stop-color="#fddcaa"/><stop offset="0.8571" stop-color="#fff7c6"/><stop offset="0.9286" stop-color="#fff7c6"/><stop offset="0.9286" stop-color="#ffffff"/><stop offset="1.0000" stop-color="#ffffff"/></linearGradient></defs>
<rect x="273.30" y="673.10" width="10.50" height="190.80" fill="url(#g3)"/>
<rect x="273.3" y="673.1" width="10.50" height="190.80" fill="none" stroke="#555" stroke-width="1"/>
<line x1="283.80" y1="839.60" x2="286.80" y2="839.60" stroke="#666" stroke-width="1"/>
<text x="290.8" y="843.3000000000001" font-size="10.5" text-anchor="start" fill="#111">2.0</text>
<line x1="283.80" y1="817.74" x2="286.80" y2="817.74" stroke="#666" stroke-width="1"/>
<text x="290.8" y="821.44" font-size="10.5" text-anchor="start" fill="#111">4.0</text>
<line x1="283.80" y1="795.88" x2="286.80" y2="795.88" stroke="#666" stroke-width="1"/>
<text x="290.8" y="799.58" font-size="10.5" text-anchor="start" fill="#111">6.0</text>
<line x1="283.80" y1="774.02" x2="286.80" y2="774.02" stroke="#666" stroke-width="1"/>
<text x="290.8" y="777.72" font-size="10.5" text-anchor="start" fill="#111">8.0</text>
<line x1="283.80" y1="752.16" x2="286.80" y2="752.16" stroke="#666" stroke-width="1"/>
<text x="290.8" y="755.8600000000001" font-size="10.5" text-anchor="start" fill="#111">10</text>
<line x1="283.80" y1="730.30" x2="286.80" y2="730.30" stroke="#666" stroke-width="1"/>
<text x="290.8" y="734.0000000000001" font-size="10.5" text-anchor="start" fill="#111">12</text>
<line x1="283.80" y1="708.44" x2="286.80" y2="708.44" stroke="#666" stroke-width="1"/>
<text x="290.8" y="712.1400000000001" font-size="10.5" text-anchor="start" fill="#111">14</text>
<line x1="283.80" y1="686.58" x2="286.80" y2="686.58" stroke="#666" stroke-width="1"/>
<text x="290.8" y="690.2800000000001" font-size="10.5" text-anchor="start" fill="#111">16</text>
<text x="-0.5" y="662.8" font-size="16" text-anchor="start" fill="#000" font-weight="bold">g</text>
<rect x="418.20" y="674.40" width="45.30" height="44.10" fill="#2a5cff"/>
<rect x="463.50" y="674.40" width="46.00" height="44.10" fill="#0530f0"/>
<rect x="509.50" y="674.40" width="45.00" height="44.10" fill="#0020d8"/>
<rect x="554.50" y="674.40" width="45.30" height="44.10" fill="#0530f5"/>
<rect x="418.20" y="718.50" width="45.30" height="44.00" fill="#0a3cff"/>
<rect x="463.50" y="718.50" width="46.00" height="44.00" fill="#1045ff"/>
<rect x="509.50" y="718.50" width="45.00" height="44.00" fill="#0a30f0"/>
<rect x="554.50" y="718.50" width="45.30" height="44.00" fill="#2a5aff"/>
<rect x="418.20" y="762.50" width="45.30" height="45.00" fill="#0535ff"/>
<rect x="463.50" y="762.50" width="46.00" height="45.00" fill="#0530f0"/>
<rect x="509.50" y="762.50" width="45.00" height="45.00" fill="#0010b8"/>
<rect x="554.50" y="762.50" width="45.30" height="45.00" fill="#7aa0ff"/>
<rect x="418.20" y="807.50" width="45.30" height="43.70" fill="#0535ff"/>
<rect x="463.50" y="807.50" width="46.00" height="43.70" fill="#3d6aff"/>
<rect x="509.50" y="807.50" width="45.00" height="43.70" fill="#0a20cc"/>
<rect x="554.50" y="807.50" width="45.30" height="43.70" fill="#0535ff"/>
<line x1="463.50" y1="674.40" x2="463.50" y2="851.20" stroke="#c4c4c4" stroke-width="1"/>
<line x1="418.20" y1="718.50" x2="599.80" y2="718.50" stroke="#c4c4c4" stroke-width="1"/>
<line x1="509.50" y1="674.40" x2="509.50" y2="851.20" stroke="#c4c4c4" stroke-width="1"/>
<line x1="418.20" y1="762.50" x2="599.80" y2="762.50" stroke="#c4c4c4" stroke-width="1"/>
<line x1="554.50" y1="674.40" x2="554.50" y2="851.20" stroke="#c4c4c4" stroke-width="1"/>
<line x1="418.20" y1="807.50" x2="599.80" y2="807.50" stroke="#c4c4c4" stroke-width="1"/>
<rect x="418.2" y="674.4" width="181.60" height="176.80" fill="none" stroke="#555" stroke-width="1.1"/>
<line x1="415.70" y1="696.50" x2="418.20" y2="696.50" stroke="#777" stroke-width="1"/>
<text x="410.6" y="701.18" font-size="13" text-anchor="end" fill="#111">10.3</text>
<line x1="415.70" y1="740.70" x2="418.20" y2="740.70" stroke="#777" stroke-width="1"/>
<text x="410.6" y="745.38" font-size="13" text-anchor="end" fill="#111">7.6</text>
<line x1="415.70" y1="784.90" x2="418.20" y2="784.90" stroke="#777" stroke-width="1"/>
<text x="410.6" y="789.5799999999999" font-size="13" text-anchor="end" fill="#111">4.8</text>
<line x1="415.70" y1="829.10" x2="418.20" y2="829.10" stroke="#777" stroke-width="1"/>
<text x="410.6" y="833.78" font-size="13" text-anchor="end" fill="#111">2.1</text>
<line x1="440.90" y1="851.20" x2="440.90" y2="854.70" stroke="#777" stroke-width="1"/>
<text transform="translate(445.94,859.4) rotate(-90)" font-size="14" text-anchor="end" fill="#111">PANI</text>
<line x1="486.30" y1="851.20" x2="486.30" y2="854.70" stroke="#777" stroke-width="1"/>
<text transform="translate(491.34,859.4) rotate(-90)" font-size="14" text-anchor="end" fill="#111">PAMA</text>
<line x1="531.70" y1="851.20" x2="531.70" y2="854.70" stroke="#777" stroke-width="1"/>
<text transform="translate(536.7399999999999,859.4) rotate(-90)" font-size="14" text-anchor="end" fill="#111">PNMA</text>
<line x1="577.10" y1="851.20" x2="577.10" y2="854.70" stroke="#777" stroke-width="1"/>
<text transform="translate(582.1399999999999,859.4) rotate(-90)" font-size="14" text-anchor="end" fill="#111">PNBA</text>
<text x="416.7" y="665.8" font-size="14" text-anchor="start" fill="#000" font-weight="bold">0.5 V</text>
<text transform="translate(377.3,765.3) rotate(-90)" font-size="13.5" text-anchor="middle" fill="#111">pH</text>
<text x="641.7" y="648.1" font-size="13" text-anchor="middle" fill="#111">Nitrate uptake</text>
<text x="643.3" y="666.6" font-size="13" text-anchor="middle" fill="#111">(mmol g<tspan font-size="8.5" dy="-5">&#8722;1</tspan><tspan dy="5">)</tspan></text>
<defs><linearGradient id="g4" x1="0" y1="0" x2="0" y2="1"><stop offset="0.0000" stop-color="#000070"/><stop offset="0.0279" stop-color="#000070"/><stop offset="0.0279" stop-color="#0812a8"/><stop offset="0.0653" stop-color="#0812a8"/><stop offset="0.0653" stop-color="#0814ae"/><stop offset="0.1027" stop-color="#0814ae"/><stop offset="0.1027" stop-color="#0816b4"/><stop offset="0.1401" stop-color="#0816b4"/><stop offset="0.1401" stop-color="#0819ba"/><stop offset="0.1775" stop-color="#0819ba"/><stop offset="0.1775" stop-color="#081cc2"/><stop offset="0.2149" stop-color="#081cc2"/><stop offset="0.2149" stop-color="#071fca"/><stop offset="0.2523" stop-color="#071fca"/><stop offset="0.2523" stop-color="#0622d4"/><stop offset="0.2896" stop-color="#0622d4"/><stop offset="0.2896" stop-color="#0526de"/><stop offset="0.3270" stop-color="#0526de"/><stop offset="0.3270" stop-color="#042ae8"/><stop offset="0.3644" stop-color="#042ae8"/><stop offset="0.3644" stop-color="#022ef4"/><stop offset="0.4018" stop-color="#022ef4"/><stop offset="0.4018" stop-color="#0030ff"/><stop offset="0.4392" stop-color="#0030ff"/><stop offset="0.4392" stop-color="#0033ff"/><stop offset="0.4766" stop-color="#0033ff"/><stop offset="0.4766" stop-color="#0030ff"/><stop offset="0.5140" stop-color="#0030ff"/><stop offset="0.5140" stop-color="#0a3cff"/><stop offset="0.5514" stop-color="#0a3cff"/><stop offset="0.5514" stop-color="#1848ff"/><stop offset="0.5887" stop-color="#1848ff"/><stop offset="0.5887" stop-color="#2857ff"/><stop offset="0.6261" stop-color="#2857ff"/><stop offset="0.6261" stop-color="#3866ff"/><stop offset="0.6635" stop-color="#3866ff"/><stop offset="0.6635" stop-color="#4a76ff"/><stop offset="0.7009" stop-color="#4a76ff"/><stop offset="0.7009" stop-color="#5a84ff"/><stop offset="0.7383" stop-color="#5a84ff"/><stop offset="0.7383" stop-color="#6c94ff"/><stop offset="0.7757" stop-color="#6c94ff"/><stop offset="0.7757" stop-color="#80a6ff"/><stop offset="0.8131" stop-color="#80a6ff"/><stop offset="0.8131" stop-color="#98bcff"/><stop offset="0.8505" stop-color="#98bcff"/><stop offset="0.8505" stop-color="#b4d2ff"/><stop offset="0.8878" stop-color="#b4d2ff"/><stop offset="0.8878" stop-color="#cceaff"/><stop offset="0.9252" stop-color="#cceaff"/><stop offset="0.9252" stop-color="#e6faff"/><stop offset="0.9626" stop-color="#e6faff"/><stop offset="0.9626" stop-color="#ffffff"/><stop offset="1.0000" stop-color="#ffffff"/></linearGradient></defs>
<rect x="620.30" y="674.20" width="9.50" height="189.70" fill="url(#g4)"/>
<rect x="620.3" y="674.2" width="9.50" height="189.70" fill="none" stroke="#555" stroke-width="1"/>
<line x1="629.80" y1="857.00" x2="632.80" y2="857.00" stroke="#666" stroke-width="1"/>
<text x="635.8" y="861.1" font-size="10.5" text-anchor="start" fill="#111">0.0</text>
<line x1="629.80" y1="821.90" x2="632.80" y2="821.90" stroke="#666" stroke-width="1"/>
<text x="635.8" y="826.0" font-size="10.5" text-anchor="start" fill="#111">0.40</text>
<line x1="629.80" y1="786.80" x2="632.80" y2="786.80" stroke="#666" stroke-width="1"/>
<text x="635.8" y="790.9" font-size="10.5" text-anchor="start" fill="#111">0.80</text>
<line x1="629.80" y1="751.70" x2="632.80" y2="751.70" stroke="#666" stroke-width="1"/>
<text x="635.8" y="755.8000000000001" font-size="10.5" text-anchor="start" fill="#111">1.2</text>
<line x1="629.80" y1="716.60" x2="632.80" y2="716.60" stroke="#666" stroke-width="1"/>
<text x="635.8" y="720.7" font-size="10.5" text-anchor="start" fill="#111">1.6</text>
<line x1="629.80" y1="681.50" x2="632.80" y2="681.50" stroke="#666" stroke-width="1"/>
<text x="635.8" y="685.6" font-size="10.5" text-anchor="start" fill="#111">2.0</text>
<text x="338" y="661.6" font-size="16" text-anchor="start" fill="#000" font-weight="bold">h</text>
</svg></body></html>
